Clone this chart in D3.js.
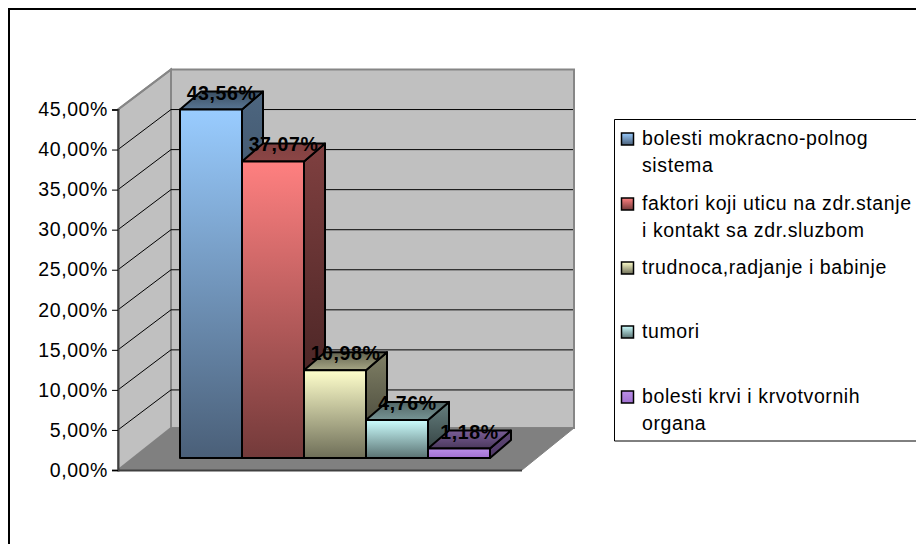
<!DOCTYPE html>
<html>
<head>
<meta charset="utf-8">
<script src="https://d3js.org/d3.v7.min.js"></script>
<style>
  html, body { margin: 0; padding: 0; background: #fff; }
  svg { display: block; }
  text { font-family: "Liberation Sans", Arial, sans-serif; fill: #000; letter-spacing: 0.6px; }
</style>
</head>
<body>
<svg id="chart" width="916" height="544"></svg>
<script>
// Chart data
var categories = ['bolesti mokracno-polnog', 'faktori koji uticu na zdr.stanje', 'trudnoca,radjanje i babinje', 'tumori', 'bolesti krvi i krvotvornih'];
var secondLines = ['sistema', 'i kontakt sa zdr.sluzbom', '', '', 'organa'];
var values = [43.56, 37.07, 10.98, 4.76, 1.18];
var valueLabels = ['43,56%', '37,07%', '10,98%', '4,76%', '1,18%'];
var tickValues = [0, 5, 10, 15, 20, 25, 30, 35, 40, 45];
var topColors = ['#99ccff', '#ff8080', '#ffffcc', '#ccffff', '#bb8fe8'];
var bottomColors = ['#4a5f78', '#733a3a', '#6e6e58', '#5a7272', '#a070d0'];
// how dark the top face gets at its back and front edge
var topBackShade = [0.62, 0.5, 0.62, 0.6, 0.35];
var topFrontShade = [0.42, 0.45, 0.35, 0.42, 0.6];
var legendY = [139, 204, 268, 332, 397];

var fontSize = '19.5px';
var svg = d3.select('#chart');
var defs = svg.append('defs');

// Outer chart frame, only left and top edges are inside the picture
svg.append('path').attr('d', 'M9,544V9H916').attr('fill', 'none').attr('stroke', '#000').attr('stroke-width', 2);

// Scales
var yFront = d3.scaleLinear().domain([0, 45]).range([470, 109.5]);
var yBack = d3.scaleLinear().domain([0, 45]).range([430, 69.5]);
var yBar = d3.scaleLinear().domain([0, 45]).range([458, 98]);
var xBar = d3.scaleBand().domain(d3.range(values.length)).range([180, 490]).padding(0);

var wallX = 118, backX = 171, backRight = 574, frontRight = 522;
var barDx = 21, barDy = 18;

function poly(pts) {
  return 'M' + pts.map(function(p) { return p.join(','); }).join('L') + 'Z';
}

// Walls and floor
var walls = svg.append('g');
walls.append('path')
  .attr('d', poly([[wallX, yFront(0)], [wallX, yFront(45)], [backX, yBack(45)], [backX, 428]]))
  .attr('fill', '#c0c0c0').attr('stroke', '#868686').attr('stroke-width', 2);
walls.append('rect')
  .attr('x', backX).attr('y', yBack(45)).attr('width', backRight - backX).attr('height', 428 - yBack(45))
  .attr('fill', '#c0c0c0').attr('stroke', '#868686').attr('stroke-width', 2);
walls.append('path')
  .attr('d', poly([[wallX, 470], [backX, 428], [backRight, 428], [frontRight, 470]]))
  .attr('fill', '#808080').attr('stroke', '#808080');

// Gridlines on the side wall and the back wall
var grid = svg.append('g');
tickValues.slice(1, -1).forEach(function(t) {
  grid.append('line')
    .attr('x1', wallX).attr('y1', yFront(t)).attr('x2', backX).attr('y2', yBack(t))
    .attr('stroke', '#000').attr('stroke-width', 1);
  grid.append('line')
    .attr('x1', backX).attr('y1', yBack(t)).attr('x2', backRight - 1).attr('y2', yBack(t))
    .attr('stroke', '#000').attr('stroke-width', 1);
});
grid.append('line')
  .attr('x1', wallX).attr('y1', yFront(45)).attr('x2', backX).attr('y2', yBack(45))
  .attr('stroke', '#868686').attr('stroke-width', 2);
grid.append('line')
  .attr('x1', wallX).attr('y1', 470.5).attr('x2', frontRight).attr('y2', 470.5)
  .attr('stroke', '#404040').attr('stroke-width', 2);

// Value axis
var axis = d3.axisLeft(yFront)
  .tickValues(tickValues)
  .tickSize(6)
  .tickFormat(function(d) { return d3.format('.2f')(d).replace('.', ',') + '%'; });
var axisG = svg.append('g').attr('transform', 'translate(' + wallX + ',0)').call(axis);
axisG.select('.domain').attr('stroke', '#404040').attr('stroke-width', 2);
axisG.selectAll('.tick line').attr('stroke', '#000');
axisG.selectAll('.tick text')
  .attr('x', -10)
  .style('font-size', fontSize)
  .style('font-family', '"Liberation Sans", Arial, sans-serif')
  .attr('fill', '#000');

// Gradients, one per bar
function gradient(id, c1, c2) {
  var g = defs.append('linearGradient').attr('id', id).attr('x1', 0).attr('y1', 0).attr('x2', 0).attr('y2', 1);
  g.append('stop').attr('offset', 0).attr('stop-color', c1);
  g.append('stop').attr('offset', 1).attr('stop-color', c2);
}
values.forEach(function(v, i) {
  var toBlack = d3.interpolateRgb(topColors[i], '#000');
  gradient('front' + i, topColors[i], bottomColors[i]);
  gradient('side' + i, toBlack(0.5), d3.interpolateRgb(bottomColors[i], '#000')(0.5));
  gradient('top' + i, toBlack(topBackShade[i]), toBlack(topFrontShade[i]));
  gradient('key' + i, topColors[i], bottomColors[i]);
});

// Bars, left to right so each one overlaps the side of the previous
var bars = svg.append('g').attr('stroke', '#000').attr('stroke-width', 2).attr('stroke-linejoin', 'round');
values.forEach(function(v, i) {
  var x0 = xBar(i), x1 = x0 + xBar.bandwidth();
  var yTop = yBar(v), yBase = yBar(0);
  bars.append('path')
    .attr('d', poly([[x1, yBase], [x1, yTop], [x1 + barDx, yTop - barDy], [x1 + barDx, yBase - barDy]]))
    .attr('fill', 'url(#side' + i + ')');
  bars.append('path')
    .attr('d', poly([[x0, yTop], [x0 + barDx, yTop - barDy], [x1 + barDx, yTop - barDy], [x1, yTop]]))
    .attr('fill', 'url(#top' + i + ')');
  bars.append('rect')
    .attr('x', x0).attr('y', yTop).attr('width', x1 - x0).attr('height', yBase - yTop)
    .attr('fill', 'url(#front' + i + ')');
});

// Data labels
svg.append('g').selectAll('text').data(valueLabels).join('text')
  .attr('x', function(d, i) { return xBar(i) + xBar.bandwidth() / 2 + barDx / 2; })
  .attr('y', function(d, i) { return yBar(values[i]) - 10; })
  .attr('text-anchor', 'middle')
  .style('font-size', fontSize)
  .style('font-weight', 'bold')
  .text(function(d) { return d; });

// Legend
var legend = svg.append('g');
legend.append('path').attr('d', 'M916,119.5H614.5V441H916').attr('fill', '#fff').attr('stroke', '#000').attr('stroke-width', 1);
categories.forEach(function(c, i) {
  legend.append('rect')
    .attr('x', 621.5).attr('y', legendY[i] - 6).attr('width', 12).attr('height', 12)
    .attr('fill', 'url(#key' + i + ')').attr('stroke', '#000').attr('stroke-width', 1.5);
  legend.append('text').attr('x', 642).attr('y', legendY[i] + 6).style('font-size', fontSize).text(c);
  if (secondLines[i]) {
    legend.append('text').attr('x', 642).attr('y', legendY[i] + 33).style('font-size', fontSize).text(secondLines[i]);
  }
});
</script>
</body>
</html>
